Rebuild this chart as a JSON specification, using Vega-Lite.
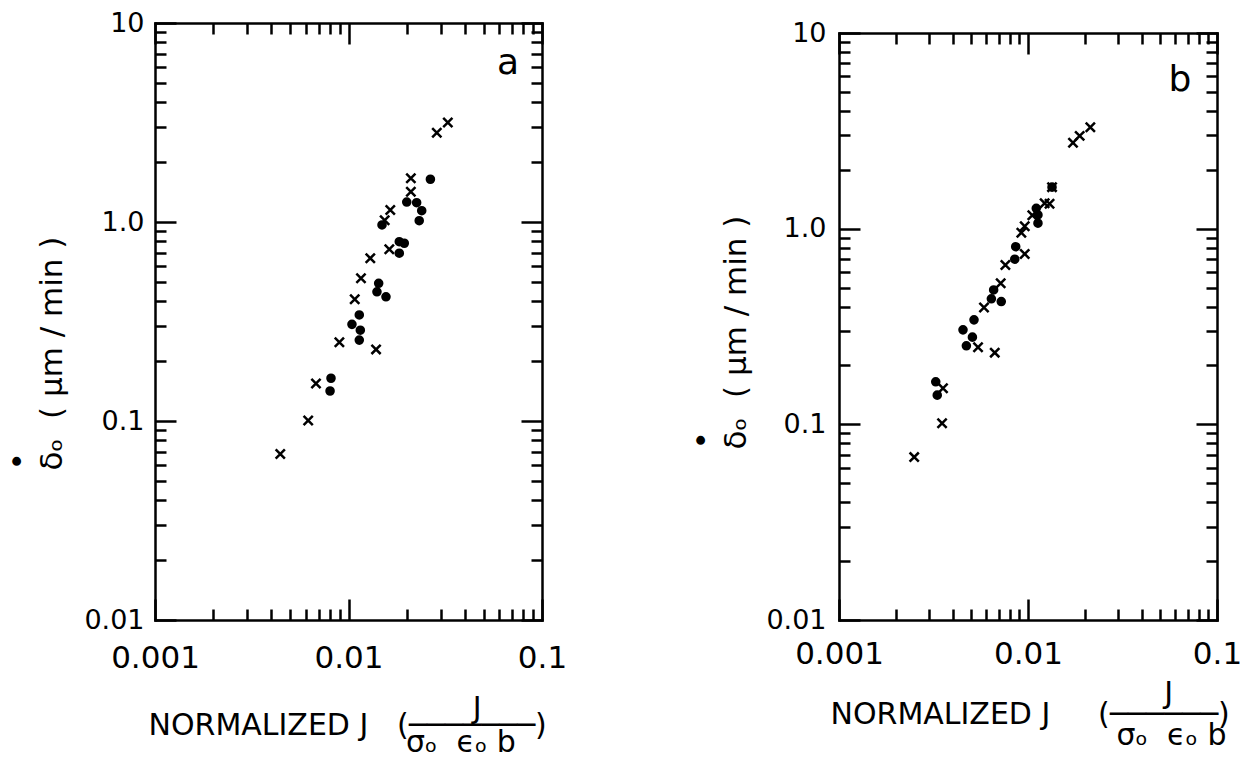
{
  "$schema": "https://vega.github.io/schema/vega-lite/v6.json",
  "background": "white",
  "padding": {"left": 2, "top": 9, "right": 5, "bottom": 5},
  "spacing": 119,
  "config": {
    "view": {"stroke": null},
    "axis": {
      "grid": false,
      "labelFont": "DejaVu Sans",
      "titleFont": "DejaVu Sans",
      "labelColor": "black",
      "titleColor": "black",
      "domainColor": "black",
      "tickColor": "black",
      "domainWidth": 2.5,
      "tickWidth": 2.5,
      "titleFontWeight": "normal",
      "labelOverlap": false,
      "labelFlush": false,
      "domainCap": "square"
    }
  },
  "datasets": {
    "a": [
      {"J": 0.0326, "delta": 3.16, "sym": "cross"},
      {"J": 0.0286, "delta": 2.81, "sym": "cross"},
      {"J": 0.0210, "delta": 1.66, "sym": "cross"},
      {"J": 0.0210, "delta": 1.42, "sym": "cross"},
      {"J": 0.01644, "delta": 1.15, "sym": "cross"},
      {"J": 0.01538, "delta": 1.02, "sym": "cross"},
      {"J": 0.01625, "delta": 0.730, "sym": "cross"},
      {"J": 0.01296, "delta": 0.658, "sym": "cross"},
      {"J": 0.01160, "delta": 0.521, "sym": "cross"},
      {"J": 0.01077, "delta": 0.409, "sym": "cross"},
      {"J": 0.00897, "delta": 0.2485, "sym": "cross"},
      {"J": 0.01388, "delta": 0.229, "sym": "cross"},
      {"J": 0.00679, "delta": 0.1545, "sym": "cross"},
      {"J": 0.00619, "delta": 0.1005, "sym": "cross"},
      {"J": 0.00444, "delta": 0.0683, "sym": "cross"},
      {"J": 0.0265, "delta": 1.64, "sym": "dot"},
      {"J": 0.0200, "delta": 1.26, "sym": "dot"},
      {"J": 0.0225, "delta": 1.25, "sym": "dot"},
      {"J": 0.0239, "delta": 1.14, "sym": "dot"},
      {"J": 0.0232, "delta": 1.015, "sym": "dot"},
      {"J": 0.01490, "delta": 0.966, "sym": "dot"},
      {"J": 0.01830, "delta": 0.796, "sym": "dot"},
      {"J": 0.01942, "delta": 0.782, "sym": "dot"},
      {"J": 0.01830, "delta": 0.697, "sym": "dot"},
      {"J": 0.01432, "delta": 0.492, "sym": "dot"},
      {"J": 0.01403, "delta": 0.446, "sym": "dot"},
      {"J": 0.01562, "delta": 0.421, "sym": "dot"},
      {"J": 0.01137, "delta": 0.341, "sym": "dot"},
      {"J": 0.01042, "delta": 0.306, "sym": "dot"},
      {"J": 0.01151, "delta": 0.286, "sym": "dot"},
      {"J": 0.01137, "delta": 0.255, "sym": "dot"},
      {"J": 0.00812, "delta": 0.164, "sym": "dot"},
      {"J": 0.00803, "delta": 0.1415, "sym": "dot"}
    ],
    "b": [
      {"J": 0.01730, "delta": 2.75, "sym": "cross"},
      {"J": 0.01877, "delta": 2.98, "sym": "cross"},
      {"J": 0.02137, "delta": 3.30, "sym": "cross"},
      {"J": 0.01340, "delta": 1.63, "sym": "cross"},
      {"J": 0.01300, "delta": 1.34, "sym": "cross"},
      {"J": 0.01225, "delta": 1.35, "sym": "cross"},
      {"J": 0.01054, "delta": 1.17, "sym": "cross"},
      {"J": 0.00961, "delta": 1.03, "sym": "cross"},
      {"J": 0.00922, "delta": 0.954, "sym": "cross"},
      {"J": 0.00961, "delta": 0.743, "sym": "cross"},
      {"J": 0.00759, "delta": 0.652, "sym": "cross"},
      {"J": 0.00717, "delta": 0.526, "sym": "cross"},
      {"J": 0.00585, "delta": 0.395, "sym": "cross"},
      {"J": 0.00544, "delta": 0.248, "sym": "cross"},
      {"J": 0.00667, "delta": 0.2325, "sym": "cross"},
      {"J": 0.00355, "delta": 0.153, "sym": "cross"},
      {"J": 0.00351, "delta": 0.1013, "sym": "cross"},
      {"J": 0.00250, "delta": 0.068, "sym": "cross"},
      {"J": 0.01340, "delta": 1.63, "sym": "dot"},
      {"J": 0.01106, "delta": 1.27, "sym": "dot"},
      {"J": 0.01129, "delta": 1.175, "sym": "dot"},
      {"J": 0.01129, "delta": 1.066, "sym": "dot"},
      {"J": 0.00861, "delta": 0.809, "sym": "dot"},
      {"J": 0.00851, "delta": 0.698, "sym": "dot"},
      {"J": 0.00658, "delta": 0.486, "sym": "dot"},
      {"J": 0.00640, "delta": 0.438, "sym": "dot"},
      {"J": 0.00722, "delta": 0.424, "sym": "dot"},
      {"J": 0.00518, "delta": 0.342, "sym": "dot"},
      {"J": 0.00453, "delta": 0.304, "sym": "dot"},
      {"J": 0.00508, "delta": 0.279, "sym": "dot"},
      {"J": 0.00472, "delta": 0.252, "sym": "dot"},
      {"J": 0.00325, "delta": 0.165, "sym": "dot"},
      {"J": 0.00331, "delta": 0.141, "sym": "dot"}
    ]
  },
  "hconcat": [
    {
      "width": 387,
      "height": 597,
      "data": {"name": "a"},
      "layer": [
        {
          "mark": {"type": "point", "filled": true, "color": "black", "stroke": "black", "strokeWidth": 2.5, "opacity": 1},
          "encoding": {
            "x": {
              "field": "J", "type": "quantitative",
              "scale": {"type": "log", "domain": [0.001, 0.1], "nice": false},
              "axis": {
                "orient": "bottom",
                "values": [0.001,0.002,0.003,0.004,0.005,0.006,0.007,0.008,0.009,0.01,0.02,0.03,0.04,0.05,0.06,0.07,0.08,0.09,0.1],
                "labelExpr": "datum.value == 0.001 ? '0.001' : datum.value == 0.01 ? '0.01' : datum.value == 0.1 ? '0.1' : ''",
                "tickSize": {"condition": {"test": "datum.value == 0.001 || datum.value == 0.01 || datum.value == 0.1", "value": -21}, "value": -11},
                "labelFontSize": 31,
                "labelPadding": 44,
                "title": [
                  "\u200b\u00a0\u00a0\u00a0\u00a0\u00a0\u00a0\u00a0\u00a0\u00a0\u00a0\u00a0\u00a0\u00a0\u00a0\u00a0\u00a0\u00a0\u00a0\u00a0\u00a0\u00a0\u00a0\u00a0\u00a0\u00a0\u00a0\u00a0\u00a0\u00a0\u00a0\u00a0\u00a0\u00a0\u00a0J",
                  "NORMALIZED J\u00a0\u00a0\u00a0(\u2500\u2500\u2500\u2500\u2500\u2500\u2500)",
                  "\u200b\u00a0\u00a0\u00a0\u00a0\u00a0\u00a0\u00a0\u00a0\u00a0\u00a0\u00a0\u00a0\u00a0\u00a0\u00a0\u00a0\u00a0\u00a0\u00a0\u00a0\u00a0\u00a0\u00a0\u00a0\u00a0\u00a0\u00a0σₒ\u00a0\u00a0ϵₒ\u00a0b"
                ],
                "titleFontSize": 30,
                "titleAlign": "left",
                "titleAnchor": "start",
                "titleBaseline": "alphabetic",
                "titleX": -7,
                "titleY": 97,
                "titleLineHeight": 17
              }
            },
            "y": {
              "field": "delta", "type": "quantitative",
              "scale": {"type": "log", "domain": [0.01, 10], "nice": false},
              "axis": {
                "orient": "left",
                "values": [0.01,0.02,0.03,0.04,0.05,0.06,0.07,0.08,0.09,0.1,0.2,0.3,0.4,0.5,0.6,0.7,0.8,0.9,1,2,3,4,5,6,7,8,9,10],
                "labelExpr": "datum.value == 10 ? '10' : datum.value == 1 ? '1.0' : datum.value == 0.1 ? '0.1' : datum.value == 0.01 ? '0.01' : ''",
                "tickSize": {"condition": {"test": "datum.value == 0.01 || datum.value == 0.1 || datum.value == 1 || datum.value == 10", "value": -21}, "value": -11},
                "labelFontSize": 27,
                "labelPadding": 32,
                "title": ["•", "δₒ\u00a0\u00a0(\u00a0μm / min\u00a0)"],
                "titleFontSize": 31,
                "titleAngle": -90,
                "titleAlign": "left",
                "titleBaseline": "alphabetic",
                "titleX": -128,
                "titleY": 447,
                "titleLineHeight": 34
              }
            },
            "shape": {"field": "sym", "type": "nominal", "scale": {"domain": ["dot", "cross"], "range": ["circle", "M-1,-1L1,1M1,-1L-1,1"]}, "legend": null},
            "size": {"field": "sym", "type": "ordinal", "scale": {"domain": ["dot", "cross"], "range": [50, 85]}, "legend": null}
          }
        },
        {
          "mark": {"type": "point", "opacity": 0},
          "encoding": {
            "x": {
              "field": "J", "type": "quantitative",
              "axis": {
                "orient": "top",
                "values": [0.001,0.002,0.003,0.004,0.005,0.006,0.007,0.008,0.009,0.01,0.02,0.03,0.04,0.05,0.06,0.07,0.08,0.09,0.1],
                "labels": false,
                "title": null,
                "tickSize": {"condition": {"test": "datum.value == 0.001 || datum.value == 0.01 || datum.value == 0.1", "value": -21}, "value": -11}
              }
            },
            "y": {
              "field": "delta", "type": "quantitative",
              "axis": {
                "orient": "right",
                "values": [0.01,0.02,0.03,0.04,0.05,0.06,0.07,0.08,0.09,0.1,0.2,0.3,0.4,0.5,0.6,0.7,0.8,0.9,1,2,3,4,5,6,7,8,9,10],
                "labels": false,
                "title": null,
                "tickSize": {"condition": {"test": "datum.value == 0.01 || datum.value == 0.1 || datum.value == 1 || datum.value == 10", "value": -21}, "value": -11}
              }
            }
          }
        },
        {
          "data": {"values": [{"panel": "a", "J": 0.0667, "delta": 6.3}]},
          "mark": {"type": "text", "font": "DejaVu Sans", "fontSize": 36, "color": "black"},
          "encoding": {
            "x": {"field": "J", "type": "quantitative", "axis": null},
            "y": {"field": "delta", "type": "quantitative", "axis": null},
            "text": {"field": "panel"}
          }
        }
      ],
      "resolve": {"axis": {"x": "independent", "y": "independent"}}
    },
    {
      "width": 378,
      "height": 597,
      "data": {"name": "b"},
      "layer": [
        {
          "mark": {"type": "point", "filled": true, "color": "black", "stroke": "black", "strokeWidth": 2.5, "opacity": 1},
          "encoding": {
            "x": {
              "field": "J", "type": "quantitative",
              "scale": {"type": "log", "domain": [0.001, 0.1], "nice": false},
              "axis": {
                "orient": "bottom",
                "values": [0.001,0.002,0.003,0.004,0.005,0.006,0.007,0.008,0.009,0.01,0.02,0.03,0.04,0.05,0.06,0.07,0.08,0.09,0.1],
                "labelExpr": "datum.value == 0.001 ? '0.001' : datum.value == 0.01 ? '0.01' : datum.value == 0.1 ? '0.1' : ''",
                "tickSize": {"condition": {"test": "datum.value == 0.001 || datum.value == 0.01 || datum.value == 0.1", "value": -21}, "value": -11},
                "labelFontSize": 31,
                "labelPadding": 40,
                "title": [
                  "\u200b\u00a0\u00a0\u00a0\u00a0\u00a0\u00a0\u00a0\u00a0\u00a0\u00a0\u00a0\u00a0\u00a0\u00a0\u00a0\u00a0\u00a0\u00a0\u00a0\u00a0\u00a0\u00a0\u00a0\u00a0\u00a0\u00a0\u00a0\u00a0\u00a0\u00a0\u00a0\u00a0\u00a0\u00a0\u00a0J",
                  "NORMALIZED J\u00a0\u00a0\u00a0\u00a0\u00a0(\u2500\u2500\u2500\u2500\u2500\u2500)",
                  "\u200b\u00a0\u00a0\u00a0\u00a0\u00a0\u00a0\u00a0\u00a0\u00a0\u00a0\u00a0\u00a0\u00a0\u00a0\u00a0\u00a0\u00a0\u00a0\u00a0\u00a0\u00a0\u00a0\u00a0\u00a0\u00a0\u00a0\u00a0\u00a0\u00a0\u00a0σₒ\u00a0\u00a0ϵₒ\u00a0b"
                ],
                "titleFontSize": 30,
                "titleAlign": "left",
                "titleAnchor": "start",
                "titleBaseline": "alphabetic",
                "titleX": -9,
                "titleY": 82,
                "titleLineHeight": 21
              }
            },
            "y": {
              "field": "delta", "type": "quantitative",
              "scale": {"type": "log", "domain": [0.01, 10], "nice": false, "range": [597, 10]},
              "axis": {
                "orient": "left",
                "values": [0.01,0.02,0.03,0.04,0.05,0.06,0.07,0.08,0.09,0.1,0.2,0.3,0.4,0.5,0.6,0.7,0.8,0.9,1,2,3,4,5,6,7,8,9,10],
                "labelExpr": "datum.value == 10 ? '10' : datum.value == 1 ? '1.0' : datum.value == 0.1 ? '0.1' : datum.value == 0.01 ? '0.01' : ''",
                "tickSize": {"condition": {"test": "datum.value == 0.01 || datum.value == 0.1 || datum.value == 1 || datum.value == 10", "value": -21}, "value": -11},
                "labelFontSize": 27,
                "labelPadding": 34,
                "title": ["•", "δₒ\u00a0\u00a0(\u00a0μm / min\u00a0)"],
                "titleFontSize": 31,
                "titleAngle": -90,
                "titleAlign": "left",
                "titleBaseline": "alphabetic",
                "titleX": -128,
                "titleY": 426,
                "titleLineHeight": 34
              }
            },
            "shape": {"field": "sym", "type": "nominal", "scale": {"domain": ["dot", "cross"], "range": ["circle", "M-1,-1L1,1M1,-1L-1,1"]}, "legend": null},
            "size": {"field": "sym", "type": "ordinal", "scale": {"domain": ["dot", "cross"], "range": [50, 85]}, "legend": null}
          }
        },
        {
          "mark": {"type": "point", "opacity": 0},
          "encoding": {
            "x": {
              "field": "J", "type": "quantitative",
              "axis": {
                "orient": "top",
                "offset": -10,
                "values": [0.001,0.002,0.003,0.004,0.005,0.006,0.007,0.008,0.009,0.01,0.02,0.03,0.04,0.05,0.06,0.07,0.08,0.09,0.1],
                "labels": false,
                "title": null,
                "tickSize": {"condition": {"test": "datum.value == 0.001 || datum.value == 0.01 || datum.value == 0.1", "value": -21}, "value": -11}
              }
            },
            "y": {
              "field": "delta", "type": "quantitative",
              "axis": {
                "orient": "right",
                "values": [0.01,0.02,0.03,0.04,0.05,0.06,0.07,0.08,0.09,0.1,0.2,0.3,0.4,0.5,0.6,0.7,0.8,0.9,1,2,3,4,5,6,7,8,9,10],
                "labels": false,
                "title": null,
                "tickSize": {"condition": {"test": "datum.value == 0.01 || datum.value == 0.1 || datum.value == 1 || datum.value == 10", "value": -21}, "value": -11}
              }
            }
          }
        },
        {
          "data": {"values": [{"panel": "b", "J": 0.0637, "delta": 5.75}]},
          "mark": {"type": "text", "font": "DejaVu Sans", "fontSize": 36, "color": "black"},
          "encoding": {
            "x": {"field": "J", "type": "quantitative", "axis": null},
            "y": {"field": "delta", "type": "quantitative", "axis": null},
            "text": {"field": "panel"}
          }
        }
      ],
      "resolve": {"axis": {"x": "independent", "y": "independent"}}
    }
  ]
}
